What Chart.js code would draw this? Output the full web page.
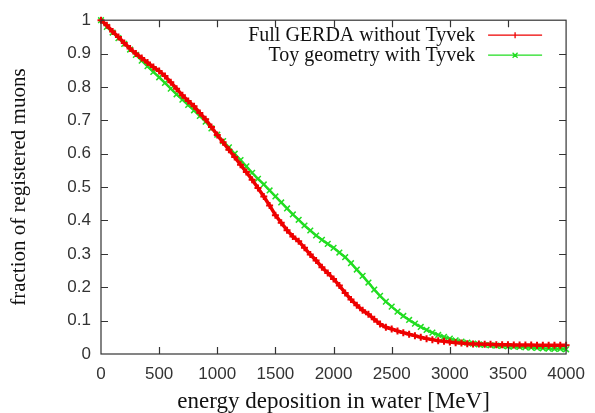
<!DOCTYPE html>
<html>
<head>
<meta charset="utf-8">
<script src="https://cdn.jsdelivr.net/npm/chart.js@4.4.1/dist/chart.umd.min.js"></script>
<style>
  html, body { margin: 0; padding: 0; background: #fff; }
  #wrap { width: 595px; height: 413px; }
</style>
</head>
<body>
<div id="wrap"><canvas id="chart" width="595" height="413"></canvas></div>
<script>
// --- Datos ---
const energy = [
  0, 50, 100, 150, 200, 250, 300, 350, 400, 450,
  500, 550, 600, 650, 700, 750, 800, 850, 900, 950,
  1000, 1050, 1100, 1150, 1200, 1250, 1300, 1350, 1400, 1450,
  1500, 1550, 1600, 1650, 1700, 1750, 1800, 1850, 1900, 1950,
  2000, 2050, 2100, 2150, 2200, 2250, 2300, 2350, 2400, 2450,
  2500, 2550, 2600, 2650, 2700, 2750, 2800, 2850, 2900, 2950,
  3000, 3050, 3100, 3150, 3200, 3250, 3300, 3350, 3400, 3450,
  3500, 3550, 3600, 3650, 3700, 3750, 3800, 3850, 3900, 3950,
  4000
];

const fullGerda = [
  1.000, 0.985, 0.966, 0.950, 0.932, 0.915, 0.900, 0.887, 0.873, 0.860,
  0.848, 0.833, 0.814, 0.795, 0.775, 0.758, 0.742, 0.722, 0.703, 0.680,
  0.656, 0.634, 0.612, 0.590, 0.567, 0.545, 0.522, 0.497, 0.472, 0.445,
  0.416, 0.393, 0.371, 0.352, 0.338, 0.318, 0.298, 0.280, 0.260, 0.243,
  0.225, 0.205, 0.183, 0.163, 0.146, 0.131, 0.119, 0.104, 0.090, 0.080,
  0.075, 0.069, 0.064, 0.059, 0.055, 0.050, 0.046, 0.043, 0.040, 0.038,
  0.036, 0.034, 0.033, 0.031, 0.030, 0.030, 0.029, 0.029, 0.028, 0.028,
  0.028, 0.027, 0.027, 0.027, 0.027, 0.026, 0.026, 0.026, 0.026, 0.026,
  0.026
];

const toyGeometry = [
  1.000, 0.980, 0.963, 0.946, 0.929, 0.912, 0.896, 0.879, 0.862, 0.845,
  0.829, 0.812, 0.795, 0.778, 0.762, 0.746, 0.730, 0.713, 0.696, 0.676,
  0.657, 0.638, 0.619, 0.600, 0.581, 0.562, 0.543, 0.525, 0.508, 0.490,
  0.472, 0.454, 0.436, 0.418, 0.402, 0.385, 0.370, 0.355, 0.342, 0.330,
  0.318, 0.304, 0.290, 0.272, 0.253, 0.234, 0.214, 0.193, 0.174, 0.157,
  0.142, 0.127, 0.114, 0.102, 0.091, 0.081, 0.072, 0.064, 0.057, 0.051,
  0.046, 0.041, 0.037, 0.034, 0.031, 0.029, 0.027, 0.026, 0.025, 0.024,
  0.023, 0.022, 0.021, 0.020, 0.019, 0.018, 0.017, 0.016, 0.015, 0.015,
  0.014
];

const seriesNames = ["Full GERDA without Tyvek", "Toy geometry with Tyvek"];
const xTicks = [0, 500, 1000, 1500, 2000, 2500, 3000, 3500, 4000];
const yTickLabels = ["0", "0.1", "0.2", "0.3", "0.4", "0.5", "0.6", "0.7", "0.8", "0.9", "1"];

// --- Estilo ---
const RED = "#ee0000";
const GREEN = "#22dd22";
const AXIS = "#333";
const SERIF = "'Liberation Serif', 'DejaVu Serif', serif";
const SANS = "'Liberation Sans', 'DejaVu Sans', sans-serif";

const toPoints = (xs, ys) => xs.map((x, i) => ({ x, y: ys[i] }));

// marco tipo gnuplot: caja completa y marcas hacia dentro en los 4 lados
const framePlugin = {
  id: "frame",
  afterDatasetsDraw(chart) {
    const { ctx, chartArea: a, scales } = chart;
    const len = 7;
    ctx.save();
    ctx.strokeStyle = AXIS;
    ctx.lineWidth = 1.2;
    ctx.strokeRect(a.left, a.top, a.right - a.left, a.bottom - a.top);
    ctx.beginPath();
    scales.x.ticks.forEach(t => {
      const px = Math.round(scales.x.getPixelForValue(t.value)) + 0.5;
      if (px <= a.left + 1 || px >= a.right - 1) return;
      ctx.moveTo(px, a.bottom); ctx.lineTo(px, a.bottom - len);
      ctx.moveTo(px, a.top);    ctx.lineTo(px, a.top + len);
    });
    scales.y.ticks.forEach(t => {
      const py = Math.round(scales.y.getPixelForValue(t.value)) + 0.5;
      if (py <= a.top + 1 || py >= a.bottom - 1) return;
      ctx.moveTo(a.left, py);  ctx.lineTo(a.left + len, py);
      ctx.moveTo(a.right, py); ctx.lineTo(a.right - len, py);
    });
    ctx.stroke();
    ctx.restore();
  }
};

// leyenda arriba a la derecha: texto alineado a la derecha y muestra de línea
const keyPlugin = {
  id: "key",
  afterDraw(chart) {
    const { ctx, chartArea: a } = chart;
    ctx.save();
    ctx.font = "20px " + SERIF;
    ctx.textBaseline = "middle";
    ctx.textAlign = "right";
    chart.data.datasets.forEach((ds, i) => {
      const y = a.top + 15 + i * 20;
      ctx.fillStyle = "#111";
      ctx.fillText(ds.label, a.right - 91, y + 1);
      ctx.strokeStyle = ds.borderColor;
      ctx.lineWidth = 1.3;
      ctx.beginPath();
      ctx.moveTo(a.right - 78, y); ctx.lineTo(a.right - 24, y);
      const cx = a.right - 51;
      if (ds.pointStyle === "cross") {
        ctx.moveTo(cx, y - 3); ctx.lineTo(cx, y + 3);
      } else {
        ctx.moveTo(cx - 2.5, y - 2.5); ctx.lineTo(cx + 2.5, y + 2.5);
        ctx.moveTo(cx - 2.5, y + 2.5); ctx.lineTo(cx + 2.5, y - 2.5);
      }
      ctx.stroke();
    });
    ctx.restore();
  }
};

new Chart(document.getElementById("chart"), {
  type: "line",
  data: {
    datasets: [
      {
        label: seriesNames[0],
        data: toPoints(energy, fullGerda),
        borderColor: RED,
        backgroundColor: RED,
        borderWidth: 3.5,
        pointStyle: "cross",
        pointRadius: 3.5,
        pointBorderWidth: 2,
        pointBorderColor: RED,
        tension: 0,
        clip: false
      },
      {
        label: seriesNames[1],
        data: toPoints(energy, toyGeometry),
        borderColor: GREEN,
        backgroundColor: GREEN,
        borderWidth: 2.5,
        pointStyle: "crossRot",
        pointRadius: 4,
        pointBorderWidth: 1.5,
        pointBorderColor: GREEN,
        tension: 0,
        clip: false
      }
    ]
  },
  options: {
    responsive: false,
    animation: false,
    devicePixelRatio: 1,
    layout: { padding: { top: 14, right: 25, left: 0, bottom: 0 } },
    plugins: { legend: { display: false }, tooltip: { enabled: false } },
    scales: {
      x: {
        type: "linear",
        min: 0, max: 4000,
        afterBuildTicks: s => { s.ticks = xTicks.map(v => ({ value: v })); },
        afterFit: s => { s.height = 59; },
        grid: { display: false, drawTicks: false },
        border: { display: false },
        ticks: {
          padding: 10,
          color: AXIS,
          font: { family: SANS, size: 17 },
          maxRotation: 0,
          callback: v => String(v)
        },
        title: {
          display: true,
          text: "energy deposition in water [MeV]",
          color: "#111",
          font: { family: SERIF, size: 23, lineHeight: 1 },
          padding: { top: 0, bottom: 0 }
        }
      },
      y: {
        min: 0, max: 1,
        ticks: {
          stepSize: 0.1,
          padding: 10,
          color: AXIS,
          font: { family: SANS, size: 17 },
          callback: (v, i) => yTickLabels[i]
        },
        afterFit: s => { s.width = 101; },
        grid: { display: false, drawTicks: false },
        border: { display: false },
        title: {
          display: true,
          text: "fraction of registered muons",
          color: "#111",
          font: { family: SERIF, size: 21 },
          padding: { top: 7, bottom: 0 }
        }
      }
    }
  },
  plugins: [framePlugin, keyPlugin]
});
</script>
</body>
</html>
